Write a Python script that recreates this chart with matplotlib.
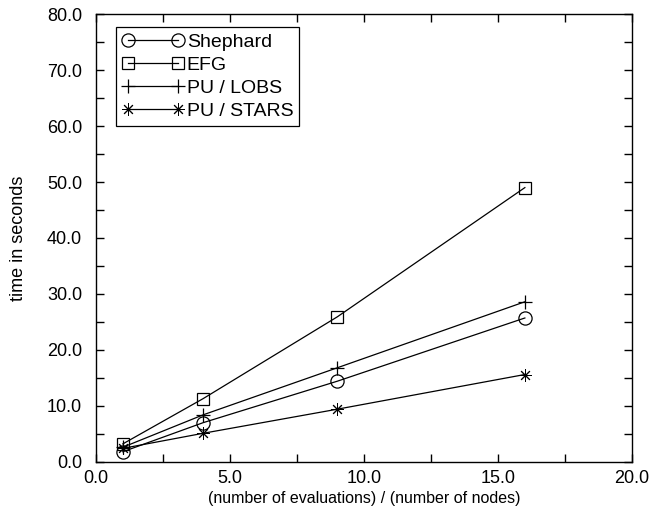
"""
 - 계산 시간 비교 그래프
"""

import matplotlib.pyplot as plt
from matplotlib.ticker import MultipleLocator, FormatStrFormatter

plt.rcParams['font.family'] = ['Liberation Sans', 'DejaVu Sans']

# 1. 자료
ratio = [1, 4, 9, 16]  # (number of evaluations) / (number of nodes)
shephard = [1.8, 7.0, 14.4, 25.7]
efg = [3.2, 11.3, 25.9, 49.0]
pu_lobs = [2.6, 8.4, 16.8, 28.6]
pu_stars = [2.4, 5.1, 9.4, 15.6]

# 2. 그래프
fig = plt.figure(figsize=(6.55, 5.23), dpi=100)
ax = fig.add_axes([0.1466, 0.117, 0.8184, 0.856])

style = dict(color='black', lw=0.9, markerfacecolor='none', markeredgewidth=0.9)
ax.plot(ratio, shephard, marker='o', ms=9.5, label='Shephard', **style)
ax.plot(ratio, efg, marker='s', ms=8.5, label='EFG', **style)
ax.plot(ratio, pu_lobs, marker='+', ms=10, label='PU / LOBS', **style)
ax.plot(ratio, pu_stars, marker=(8, 2, 0), ms=9, label='PU / STARS',
        **dict(style, markeredgewidth=0.7))

ax.set_xlim(0, 20)
ax.set_ylim(0, 80)
ax.xaxis.set_major_locator(MultipleLocator(5))
ax.xaxis.set_minor_locator(MultipleLocator(2.5))
ax.yaxis.set_major_locator(MultipleLocator(10))
ax.yaxis.set_minor_locator(MultipleLocator(5))
ax.xaxis.set_major_formatter(FormatStrFormatter('%.1f'))
ax.yaxis.set_major_formatter(FormatStrFormatter('%.1f'))
ax.tick_params(which='both', direction='in', top=True, right=True, labelsize=13, width=1, length=6)
ax.tick_params(axis='x', pad=6)
ax.tick_params(axis='y', pad=10)
for s in ax.spines.values():
    s.set_linewidth(1)

ax.set_xlabel('(number of evaluations) / (number of nodes)', fontsize=11.5, labelpad=3)
ax.set_ylabel('time in seconds', fontsize=13, labelpad=14)

leg = ax.legend(loc='upper left', bbox_to_anchor=(0.037, 0.971), fontsize=14,
                handlelength=3.17, numpoints=2, fancybox=False, framealpha=1,
                edgecolor='black', borderpad=0.32, labelspacing=0.27,
                handletextpad=0.15, borderaxespad=0)
leg.get_frame().set_linewidth(0.9)

fig.savefig('out.png', dpi=100)
